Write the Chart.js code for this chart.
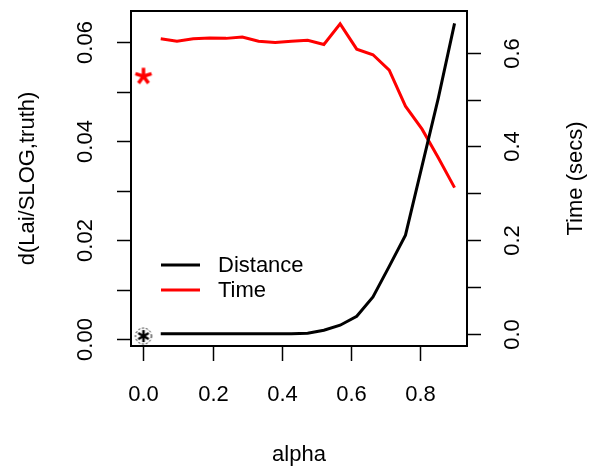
<!DOCTYPE html>
<html>
<head>
<meta charset="utf-8">
<script src="https://cdn.jsdelivr.net/npm/chart.js@4.4.0/dist/chart.umd.min.js"></script>
<style>
  body { margin: 0; background: #fff; }
  #wrap { width: 592px; height: 469px; }
</style>
</head>
<body>
<div id="wrap"><canvas id="c"></canvas></div>
<script>
// values
const alphaVals = [0.05, 0.097, 0.144, 0.192, 0.239, 0.286, 0.333, 0.381, 0.428, 0.475,
                   0.522, 0.569, 0.617, 0.664, 0.711, 0.758, 0.806, 0.853, 0.9];
const distVals = [0.0011, 0.0011, 0.0011, 0.0011, 0.0011, 0.0011, 0.0011, 0.0011, 0.0011, 0.0012,
                  0.0018, 0.0028, 0.0046, 0.0085, 0.0147, 0.0210, 0.0350, 0.0487, 0.0638];
const timeVals = [0.630, 0.625, 0.630, 0.632, 0.631, 0.634, 0.625, 0.622, 0.625, 0.627,
                  0.618, 0.662, 0.608, 0.596, 0.563, 0.486, 0.437, 0.376, 0.312];
const startAlpha = 0;
const startDist = 0.0006;
const startTime = 0.55;

const xTicks = [0, 0.2, 0.4, 0.6, 0.8];
const xLabels = ['0.0', '0.2', '0.4', '0.6', '0.8'];
const yTicks = [0, 0.01, 0.02, 0.03, 0.04, 0.05, 0.06];
const yLabels = ['0.00', '', '0.02', '', '0.04', '', '0.06'];
const y2Ticks = [0, 0.1, 0.2, 0.3, 0.4, 0.5, 0.6];
const y2Labels = ['0.0', '', '0.2', '', '0.4', '', '0.6'];
const seriesNames = ['Distance', 'Time'];
const seriesColors = ['#000000', '#ff0000'];

const FONT = '22px "Liberation Sans", Arial, sans-serif';

// asterisk marks for the alpha = 0 points
function asterisk(color, arms, len, width, withRing) {
    const c = document.createElement('canvas');
    c.width = 24; c.height = 24;
    const g = c.getContext('2d');
    g.strokeStyle = color;
    g.lineWidth = width;
    for (let i = 0; i < arms; i++) {
        const a = -Math.PI / 2 + i * 2 * Math.PI / arms;
        g.beginPath();
        g.moveTo(12, 12);
        g.lineTo(12 + len * Math.cos(a), 12 + len * Math.sin(a));
        g.stroke();
    }
    if (withRing) {
        g.lineWidth = 1;
        g.setLineDash([2, 2]);
        g.beginPath();
        g.arc(12, 12, 8, 0, 2 * Math.PI);
        g.stroke();
    }
    return c;
}

const rPlot = {
    id: 'rPlot',
    afterDraw(chart) {
        const ctx = chart.ctx;
        const a = chart.chartArea;
        const sx = chart.scales.x, sy = chart.scales.y, sy2 = chart.scales.y2;
        ctx.save();
        ctx.strokeStyle = '#000';
        ctx.fillStyle = '#000';
        ctx.lineWidth = 2;
        ctx.strokeRect(a.left, a.top, a.right - a.left, a.bottom - a.top);

        ctx.font = FONT;
        ctx.lineWidth = 1.5;
        // x axis
        ctx.textAlign = 'center';
        ctx.textBaseline = 'middle';
        xTicks.forEach((v, i) => {
            const px = Math.round(sx.getPixelForValue(v)) + 0.5;
            ctx.beginPath();
            ctx.moveTo(px, a.bottom);
            ctx.lineTo(px, a.bottom + 15);
            ctx.stroke();
            ctx.fillText(xLabels[i], px, 395);
        });
        ctx.fillText('alpha', (a.left + a.right) / 2, 455);

        // left axis
        yTicks.forEach((v, i) => {
            const py = Math.round(sy.getPixelForValue(v)) + 0.5;
            ctx.beginPath();
            ctx.moveTo(a.left - 14, py);
            ctx.lineTo(a.left, py);
            ctx.stroke();
            if (yLabels[i]) {
                ctx.save();
                ctx.translate(86, py);
                ctx.rotate(-Math.PI / 2);
                ctx.fillText(yLabels[i], 0, 0);
                ctx.restore();
            }
        });
        ctx.save();
        ctx.translate(28, (a.top + a.bottom) / 2);
        ctx.rotate(-Math.PI / 2);
        ctx.fillText('d(Lai/SLOG,truth)', 0, 0);
        ctx.restore();

        // right axis
        y2Ticks.forEach((v, i) => {
            const py = Math.round(sy2.getPixelForValue(v)) + 0.5;
            ctx.beginPath();
            ctx.moveTo(a.right, py);
            ctx.lineTo(a.right + 14, py);
            ctx.stroke();
            if (y2Labels[i]) {
                ctx.save();
                ctx.translate(513, py);
                ctx.rotate(-Math.PI / 2);
                ctx.fillText(y2Labels[i], 0, 0);
                ctx.restore();
            }
        });
        ctx.save();
        ctx.translate(576, (a.top + a.bottom) / 2);
        ctx.rotate(-Math.PI / 2);
        ctx.fillText('Time (secs)', 0, 0);
        ctx.restore();

        // legend inside the plot
        ctx.textAlign = 'left';
        ctx.lineWidth = 3;
        seriesNames.forEach((name, i) => {
            const ly = 265 + i * 25;
            ctx.strokeStyle = seriesColors[i];
            ctx.beginPath();
            ctx.moveTo(161, ly);
            ctx.lineTo(200, ly);
            ctx.stroke();
            ctx.fillStyle = '#000';
            ctx.fillText(name, 218, ly + 1);
        });
        ctx.restore();
    }
};

const hiddenAxis = (extra) => Object.assign({
    type: 'linear',
    grid: { display: false },
    border: { display: false },
    ticks: { display: false }
}, extra);

new Chart(document.getElementById('c'), {
    type: 'line',
    data: {
        datasets: [
            {
                label: seriesNames[0],
                data: alphaVals.map((x, i) => ({ x: x, y: distVals[i] })),
                borderColor: seriesColors[0],
                borderWidth: 3,
                pointRadius: 0,
                yAxisID: 'y'
            },
            {
                label: seriesNames[1],
                data: alphaVals.map((x, i) => ({ x: x, y: timeVals[i] })),
                borderColor: seriesColors[1],
                borderWidth: 3,
                pointRadius: 0,
                yAxisID: 'y2'
            },
            {
                data: [{ x: startAlpha, y: startDist }],
                showLine: false,
                pointStyle: asterisk('#000', 6, 6, 2.5, true),
                yAxisID: 'y'
            },
            {
                data: [{ x: startAlpha, y: startTime }],
                showLine: false,
                pointStyle: asterisk('#ff0000', 5, 8.5, 3.5, false),
                yAxisID: 'y2'
            }
        ]
    },
    options: {
        responsive: true,
        maintainAspectRatio: false,
        animation: false,
        layout: { padding: { top: 11, left: 0, right: 0, bottom: 0 } },
        plugins: { legend: { display: false }, tooltip: { enabled: false } },
        scales: {
            x: hiddenAxis({ min: -0.036, max: 0.936, afterFit: s => { s.height = 123; } }),
            y: hiddenAxis({ position: 'left', min: -0.0014, max: 0.0663, afterFit: s => { s.width = 131; } }),
            y2: hiddenAxis({ position: 'right', min: -0.0265, max: 0.6895, afterFit: s => { s.width = 125; } })
        }
    },
    plugins: [rPlot]
});
</script>
</body>
</html>
